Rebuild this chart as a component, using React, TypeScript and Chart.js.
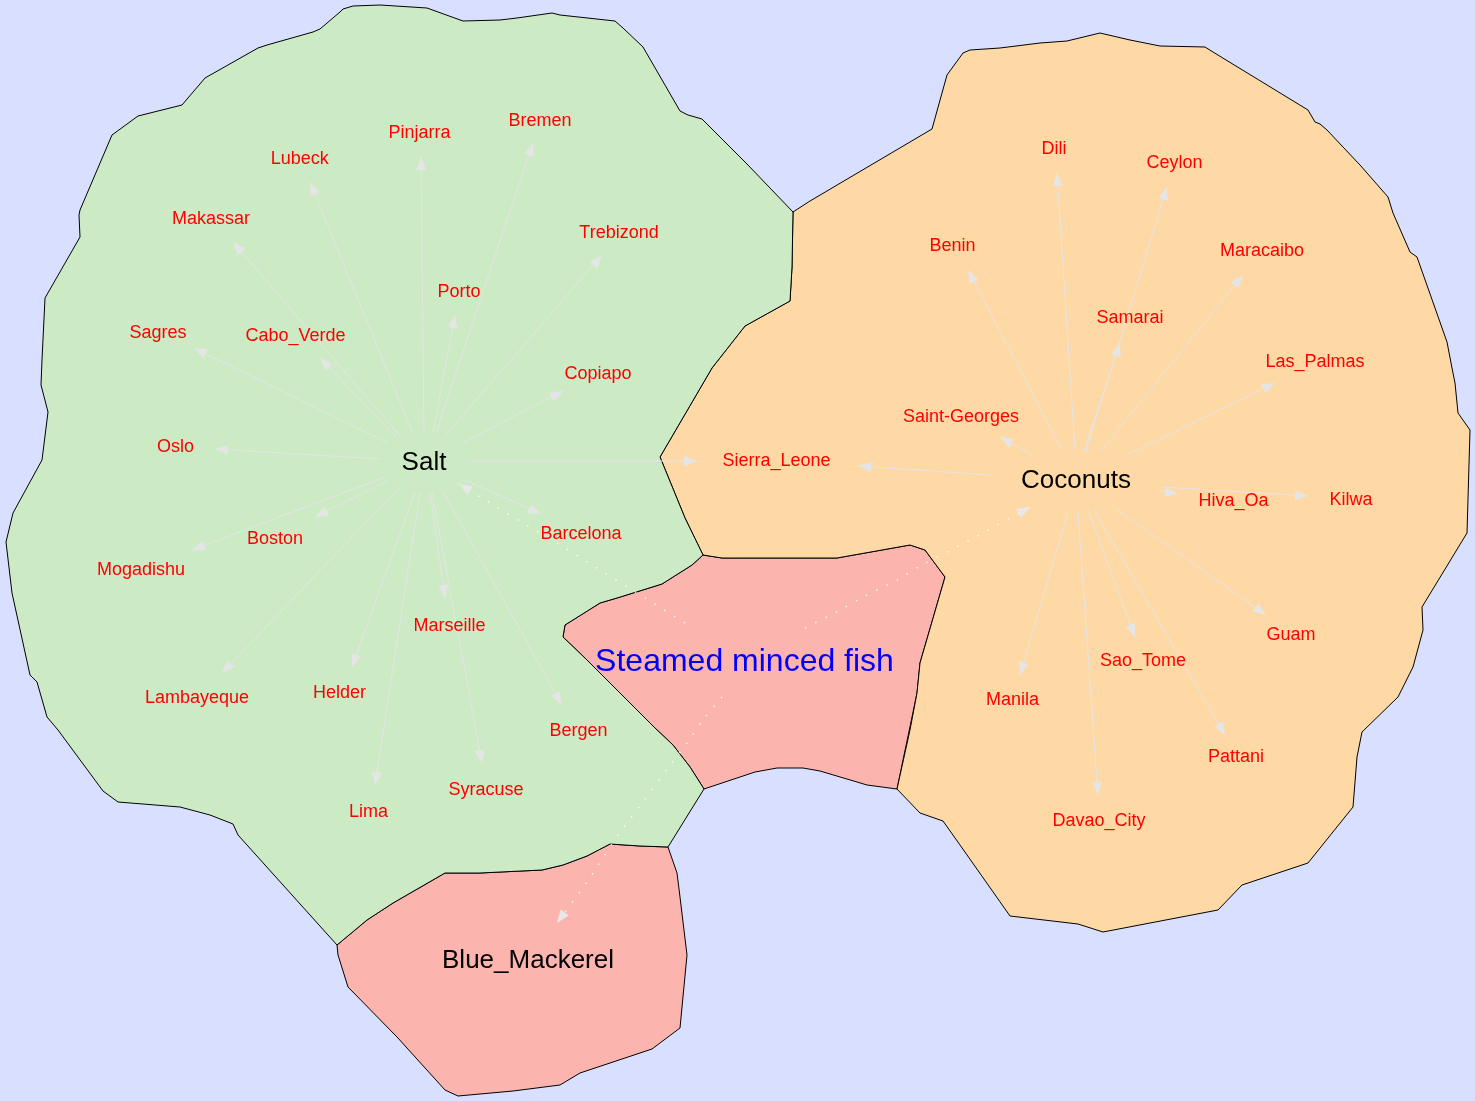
import { useEffect, useRef } from "react"
import { Chart, registerables } from "chart.js"

Chart.register(...registerables)

type Pt = [number, number]

// region outlines (page pixel units, y grows downwards)
const saltOutline: Pt[] = [
  [340, 12], [343, 9], [353, 6], [380, 5], [427, 8], [463, 21], [500, 20], [517, 18], [552, 13],
  [560, 15], [615, 21], [623, 28], [643, 47], [680, 111], [688, 115], [702, 119], [747, 164],
  [793, 212], [792, 267], [790, 301], [745, 326], [712, 368], [660, 457], [685, 518], [703, 555],
  [692, 565], [662, 584], [617, 598], [600, 603], [565, 625], [563, 637], [587, 660], [607, 680],
  [655, 728], [673, 745], [690, 767], [704, 789], [668, 847], [640, 846], [610, 844], [587, 856],
  [563, 865], [542, 870], [480, 873], [445, 873], [393, 903], [367, 920], [337, 945], [238, 835],
  [233, 824], [210, 815], [180, 807], [118, 802], [103, 791], [58, 730], [47, 717], [37, 682],
  [30, 675], [12, 593], [6, 542], [13, 513], [42, 460], [48, 412], [41, 385], [42, 360], [45, 298],
  [80, 237], [79, 215], [80, 210], [112, 135], [138, 116], [182, 105], [205, 78], [258, 48],
  [267, 45], [313, 32], [320, 29], [340, 12]
]

const coconutsOutline: Pt[] = [
  [793, 212], [810, 201], [932, 129], [947, 75], [963, 53], [970, 50], [1000, 48], [1040, 43],
  [1067, 41], [1100, 33], [1130, 40], [1160, 46], [1205, 47], [1213, 52], [1308, 110], [1315, 122],
  [1320, 124], [1327, 130], [1360, 165], [1388, 197], [1393, 213], [1410, 252], [1417, 257],
  [1447, 342], [1452, 368], [1455, 383], [1458, 413], [1470, 430], [1467, 533], [1422, 607],
  [1423, 630], [1413, 667], [1398, 697], [1362, 732], [1357, 757], [1353, 807], [1308, 863],
  [1242, 885], [1218, 910], [1103, 932], [1078, 924], [1010, 916], [960, 845], [943, 821],
  [920, 813], [897, 789], [910, 730], [917, 693], [920, 663], [945, 577], [925, 550], [910, 545],
  [837, 558], [722, 558], [703, 555], [685, 518], [660, 457], [712, 368], [745, 326], [790, 301],
  [792, 267], [793, 212]
]

const fishOutline: Pt[] = [
  [703, 555], [722, 558], [837, 558], [910, 545], [925, 550], [945, 577], [920, 663], [917, 693],
  [897, 789], [867, 785], [857, 782], [820, 771], [803, 768], [777, 768], [755, 772], [704, 789],
  [690, 767], [673, 745], [655, 728], [607, 680], [587, 660], [563, 637], [565, 625], [600, 603],
  [617, 598], [662, 584], [692, 565], [703, 555]
]

const mackerelOutline: Pt[] = [
  [337, 945], [367, 920], [393, 903], [445, 873], [480, 873], [542, 870], [563, 865], [587, 856],
  [610, 844], [640, 846], [668, 847], [677, 873], [680, 897], [687, 955], [680, 1028], [652, 1049],
  [580, 1073], [560, 1085], [513, 1091], [458, 1096], [445, 1090], [397, 1037], [348, 987],
  [338, 955], [337, 945]
]

const regionOutlines = [saltOutline, coconutsOutline, fishOutline, mackerelOutline]
const regionColors = ["#ccebc5", "#fed9a6", "#fbb4ae", "#fbb4ae"]

// big node labels
const hubNames = ["Salt", "Coconuts", "Blue_Mackerel"]
const hubX = [424, 1076, 528]
const hubY = [461, 478.5, 958.5]

const dishName = "Steamed minced fish"
const dishX = 744.5
const dishY = 660

// place labels
const placeNames = [
  "Pinjarra", "Bremen", "Lubeck", "Makassar", "Trebizond", "Porto", "Sagres", "Cabo_Verde",
  "Copiapo", "Oslo", "Sierra_Leone", "Boston", "Barcelona", "Mogadishu", "Marseille",
  "Lambayeque", "Helder", "Bergen", "Syracuse", "Lima",
  "Dili", "Ceylon", "Benin", "Maracaibo", "Samarai", "Las_Palmas", "Saint-Georges", "Hiva_Oa",
  "Kilwa", "Guam", "Sao_Tome", "Manila", "Pattani", "Davao_City"
]
const placeX = [
  419.5, 540, 299.7, 211, 619, 459, 158, 295.5, 598, 175.5, 776.5, 275, 581, 141, 449.5, 197,
  339.5, 578.5, 486, 368.5,
  1054, 1174.5, 952.5, 1262, 1130, 1315, 961, 1233.5, 1351, 1291, 1143, 1012.5, 1236, 1099
]
const placeY = [
  131.7, 119.5, 157.5, 217.5, 231.5, 291, 331.5, 334.5, 372.5, 445.5, 459.5, 537.5, 532.5, 568.5,
  624.5, 696.5, 691.5, 729.5, 788.5, 810.5,
  147.5, 161.5, 244.5, 249.5, 317, 360.5, 415.5, 499.5, 498.5, 633.5, 659.5, 698.5, 755.5, 820
]

// solid edges: start point -> arrow tip
const saltEdges: Pt[][] = [
  [[424, 433], [421, 157]],
  [[436, 433], [533, 143]],
  [[413, 434], [310, 182]],
  [[400, 436], [233, 242]],
  [[445, 436], [602, 255]],
  [[433, 433], [455, 315]],
  [[388, 443], [194, 348]],
  [[397, 438], [320, 358]],
  [[462, 443], [563, 391]],
  [[380, 459], [215, 449]],
  [[470, 461], [697, 461]],
  [[388, 481], [315, 517]],
  [[465, 480], [541, 514]],
  [[385, 477], [192, 550]],
  [[430, 493], [445, 598]],
  [[400, 487], [222, 673]],
  [[415, 492], [352, 667]],
  [[442, 490], [562, 705]],
  [[432, 493], [482, 763]],
  [[420, 493], [375, 785]]
]

const coconutsEdges: Pt[][] = [
  [[1075, 450], [1057, 173]],
  [[1086, 451], [1167, 187]],
  [[1062, 450], [968, 270]],
  [[1100, 452], [1243, 275]],
  [[1084, 451], [1120, 343]],
  [[1127, 455], [1275, 383]],
  [[1032, 455], [1000, 437]],
  [[992, 475], [858, 466]],
  [[1160, 491], [1178, 494]],
  [[1162, 487], [1308, 496]],
  [[1115, 508], [1266, 615]],
  [[1088, 510], [1135, 637]],
  [[1068, 512], [1020, 675]],
  [[1094, 510], [1225, 735]],
  [[1078, 512], [1098, 795]]
]

// dotted edges out of the dish
const dishEdges: Pt[][] = [
  [[685, 623], [645, 598], [597, 568], [560, 545], [523, 523], [480, 497], [459, 484]],
  [[805, 628], [840, 610], [863, 597], [897, 580], [922, 565], [970, 540], [1030, 507]],
  [[722, 697], [703, 720], [687, 743], [670, 765], [643, 802], [618, 835], [587, 882], [557, 923]]
]

const FONT = '"Liberation Sans", Arial, Helvetica, sans-serif'

const App = () => {
  const chartRef = useRef<HTMLCanvasElement>(null)

  useEffect(() => {
    document.body.style.margin = "0"
    if (!chartRef.current) return
    const ctx = chartRef.current.getContext("2d")
    if (!ctx) return

    const toData = (pts: Pt[]) => pts.map(([x, y]) => ({ x, y }))

    const regionSets = regionOutlines.map((pts, i) => ({
      data: toData(pts),
      borderColor: "#000000",
      borderWidth: 1,
      backgroundColor: regionColors[i],
      fill: "shape",
      pointRadius: 0,
      tension: 0,
      order: 10
    }))

    const solidSets = [...saltEdges, ...coconutsEdges].map((pts) => ({
      data: toData(pts),
      borderColor: "#e5e5e5",
      borderWidth: 1,
      fill: false,
      pointRadius: 0,
      tension: 0,
      order: 5
    }))

    const dottedSets = dishEdges.map((pts) => ({
      data: toData(pts),
      borderColor: "rgba(255,255,255,0.85)",
      borderWidth: 1.5,
      borderDash: [1.5, 10],
      fill: false,
      pointRadius: 0,
      tension: 0.3,
      order: 5
    }))

    const overlay = {
      id: "overlay",
      afterDatasetsDraw(chart: any) {
        const c = chart.ctx as CanvasRenderingContext2D
        const xs = chart.scales.x
        const ys = chart.scales.y
        const px = (v: number) => xs.getPixelForValue(v)
        const py = (v: number) => ys.getPixelForValue(v)

        const arrow = (path: Pt[], color: string) => {
          const [ax, ay] = path[path.length - 2]
          const [bx, by] = path[path.length - 1]
          const x1 = px(ax), y1 = py(ay), x2 = px(bx), y2 = py(by)
          const len = Math.hypot(x2 - x1, y2 - y1) || 1
          const ux = (x2 - x1) / len, uy = (y2 - y1) / len
          const L = 13, W = 5
          c.beginPath()
          c.moveTo(x2, y2)
          c.lineTo(x2 - ux * L - uy * W, y2 - uy * L + ux * W)
          c.lineTo(x2 - ux * L + uy * W, y2 - uy * L - ux * W)
          c.closePath()
          c.fillStyle = color
          c.fill()
        }

        c.save()
        ;[...saltEdges, ...coconutsEdges].forEach((p) => arrow(p, "#e5e5e5"))
        dishEdges.forEach((p) => arrow(p, "#e8e8e8"))

        c.textAlign = "center"
        c.textBaseline = "alphabetic"
        c.fillStyle = "#ff0000"
        c.font = `18px ${FONT}`
        placeNames.forEach((name, i) => {
          c.fillText(name, px(placeX[i]), py(placeY[i]) + 18 * 0.358)
        })

        c.fillStyle = "#000000"
        c.font = `26px ${FONT}`
        hubNames.forEach((name, i) => {
          c.fillText(name, px(hubX[i]), py(hubY[i]) + 26 * 0.358)
        })

        c.fillStyle = "#0000ff"
        c.font = `32px ${FONT}`
        c.fillText(dishName, px(dishX), py(dishY) + 32 * 0.358)
        c.restore()
      }
    }

    const chart = new Chart(ctx, {
      type: "line",
      data: { datasets: [...dottedSets, ...solidSets, ...regionSets] as any },
      options: {
        animation: false,
        responsive: true,
        maintainAspectRatio: false,
        events: [],
        layout: { padding: 0 },
        plugins: { legend: { display: false }, tooltip: { enabled: false } },
        scales: {
          x: { type: "linear", min: 0, max: 1475, display: false },
          y: { type: "linear", min: 0, max: 1101, reverse: true, display: false }
        }
      },
      plugins: [overlay]
    })

    return () => {
      chart.destroy()
    }
  }, [])

  return (
    <div style={{ width: 1475, height: 1101, position: "relative", background: "#d9e0ff" }}>
      <canvas ref={chartRef}></canvas>
    </div>
  )
}

export default App
